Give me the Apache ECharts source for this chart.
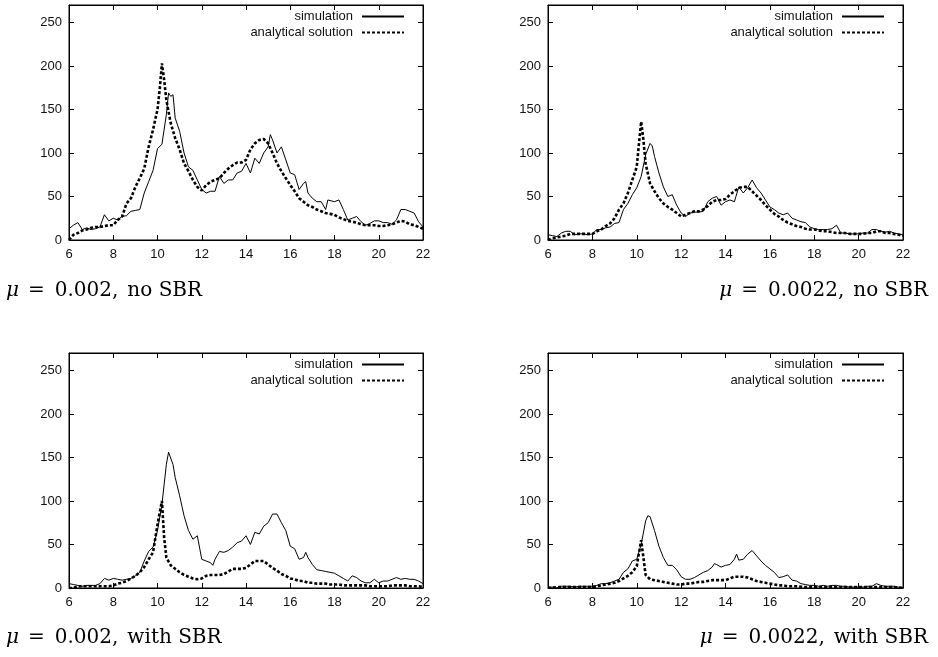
<!DOCTYPE html>
<html>
<head>
<meta charset="utf-8">
<script src="https://cdn.jsdelivr.net/npm/echarts@6/dist/echarts.min.js"></script>
<style>
  html, body { margin: 0; padding: 0; background: #fff; }
  #chart { width: 938px; height: 657px; }
</style>
</head>
<body>
<div id="chart"></div>
<script>
// axis ticks
var xTicks = [6, 8, 10, 12, 14, 16, 18, 20, 22];
var yTicks = [0, 50, 100, 150, 200, 250];

var muValues = ['0.002,', '0.0022,', '0.002,', '0.0022,'];
var captionTails = ['no SBR', 'no SBR', 'with SBR', 'with SBR'];

// panel 1: mu = 0.002, no SBR
var sim1 = [[6.0,13],[6.2,17],[6.4,20],[6.6,12],[6.8,14],[7.0,12],[7.2,13],[7.4,15],[7.6,29],[7.8,22],[8.0,25],[8.2,23],[8.4,27],[8.6,28],[8.8,33],[9.0,34],[9.2,35],[9.4,54],[9.6,67],[9.8,80],[10.0,105],[10.2,110],[10.4,144],[10.5,169],[10.6,165],[10.7,167],[10.8,140],[11.0,125],[11.2,100],[11.4,84],[11.6,80],[11.8,69],[12.0,58],[12.2,54],[12.4,56],[12.6,56],[12.8,73],[13.0,65],[13.2,69],[13.4,69],[13.6,77],[13.8,79],[14.0,88],[14.2,77],[14.4,94],[14.6,88],[14.8,100],[15.0,107],[15.1,121],[15.2,115],[15.4,100],[15.6,107],[15.8,92],[16.0,77],[16.2,75],[16.4,58],[16.6,65],[16.7,67],[16.8,54],[17.0,48],[17.2,44],[17.4,44],[17.6,35],[17.7,46],[18.0,44],[18.2,46],[18.4,35],[18.6,23],[18.8,25],[19.0,27],[19.2,21],[19.4,17],[19.6,19],[19.8,22],[20.0,22],[20.2,20],[20.4,20],[20.6,18],[20.8,23],[21.0,35],[21.2,35],[21.4,33],[21.6,31],[21.8,21],[22.0,15]];
var ana1 = [[6.0,0],[6.2,6],[6.4,8],[6.6,11],[6.8,12],[7.0,14],[7.2,15],[7.4,15],[7.6,16],[7.8,17],[8.0,17],[8.2,23],[8.4,27],[8.6,42],[8.8,48],[9.0,61],[9.2,71],[9.4,82],[9.6,107],[9.8,127],[10.0,150],[10.1,173],[10.2,203],[10.3,184],[10.4,161],[10.6,134],[10.8,117],[11.0,104],[11.2,88],[11.4,79],[11.6,69],[11.8,61],[12.0,57],[12.2,63],[12.4,67],[12.6,69],[12.8,71],[13.0,77],[13.2,82],[13.4,86],[13.6,89],[13.8,89],[14.0,92],[14.2,104],[14.4,111],[14.6,115],[14.8,116],[15.0,111],[15.2,100],[15.4,88],[15.6,79],[15.8,71],[16.0,63],[16.2,56],[16.4,48],[16.6,44],[16.8,40],[17.0,38],[17.2,35],[17.4,33],[17.6,31],[17.8,30],[18.0,29],[18.2,26],[18.4,24],[18.6,22],[18.8,21],[19.0,20],[19.2,18],[19.4,17],[19.6,17],[19.8,17],[20.0,16],[20.2,16],[20.4,17],[20.6,18],[20.8,20],[21.0,22],[21.2,21],[21.4,18],[21.6,17],[21.8,15],[22.0,13]];

// panel 2: mu = 0.0022, no SBR
var sim2 = [[6.0,6],[6.2,5],[6.4,4],[6.6,8],[6.8,10],[7.0,10],[7.2,6],[7.4,7],[7.6,7],[7.8,6],[8.0,7],[8.2,12],[8.4,12],[8.6,14],[8.8,15],[9.0,19],[9.2,20],[9.4,35],[9.6,42],[9.8,52],[10.0,60],[10.2,73],[10.4,98],[10.6,111],[10.7,108],[10.8,96],[11.0,77],[11.2,61],[11.4,50],[11.6,52],[11.8,40],[12.0,31],[12.2,27],[12.4,31],[12.6,32],[12.8,32],[13.0,33],[13.2,44],[13.4,48],[13.6,50],[13.8,40],[14.0,44],[14.2,46],[14.4,44],[14.6,61],[14.8,54],[15.0,60],[15.2,69],[15.4,60],[15.6,54],[15.8,46],[16.0,38],[16.2,35],[16.4,31],[16.6,29],[16.8,31],[17.0,25],[17.2,23],[17.4,21],[17.6,20],[17.8,15],[18.0,13],[18.2,12],[18.4,12],[18.6,12],[18.8,13],[19.0,17],[19.2,8],[19.4,8],[19.6,7],[19.8,7],[20.0,7],[20.2,8],[20.4,8],[20.6,12],[20.8,12],[21.0,10],[21.2,9],[21.4,10],[21.6,8],[21.8,7],[22.0,6]];
var ana2 = [[6.0,0],[6.2,2],[6.4,3],[6.6,4],[6.8,5],[7.0,7],[7.2,7],[7.4,7],[7.6,7],[7.8,7],[8.0,7],[8.2,10],[8.4,12],[8.6,16],[8.8,19],[9.0,25],[9.2,35],[9.4,42],[9.6,54],[9.8,69],[10.0,84],[10.1,111],[10.2,136],[10.3,115],[10.4,88],[10.6,65],[10.8,56],[11.0,48],[11.2,42],[11.4,38],[11.6,35],[11.8,31],[12.0,27],[12.2,29],[12.4,31],[12.6,33],[12.8,33],[13.0,35],[13.2,39],[13.4,44],[13.6,46],[13.8,46],[14.0,47],[14.2,52],[14.4,56],[14.6,60],[14.8,61],[15.0,61],[15.2,56],[15.4,51],[15.6,46],[15.8,40],[16.0,35],[16.2,30],[16.4,27],[16.6,23],[16.8,20],[17.0,18],[17.2,16],[17.4,15],[17.6,13],[17.8,12],[18.0,12],[18.2,11],[18.4,10],[18.6,10],[18.8,9],[19.0,8],[19.2,8],[19.4,8],[19.6,7],[19.8,7],[20.0,7],[20.2,7],[20.4,8],[20.6,8],[20.8,10],[21.0,10],[21.2,8],[21.4,8],[21.6,7],[21.8,6],[22.0,5]];

// panel 3: mu = 0.002, with SBR
var sim3 = [[6.0,5],[6.2,4],[6.4,3],[6.6,2],[6.8,3],[7.0,3],[7.2,3],[7.4,5],[7.6,11],[7.8,9],[8.0,11],[8.2,10],[8.4,9],[8.6,10],[8.8,11],[9.0,14],[9.2,18],[9.4,31],[9.6,42],[9.8,47],[10.0,66],[10.2,96],[10.4,142],[10.5,156],[10.7,142],[10.8,127],[11.0,106],[11.2,83],[11.4,66],[11.6,56],[11.8,60],[12.0,33],[12.2,31],[12.4,29],[12.5,26],[12.6,33],[12.8,42],[13.0,41],[13.2,43],[13.4,47],[13.6,52],[13.8,54],[14.0,60],[14.2,50],[14.4,64],[14.6,62],[14.8,71],[15.0,75],[15.2,85],[15.4,85],[15.6,75],[15.8,66],[16.0,48],[16.2,45],[16.4,33],[16.6,35],[16.7,41],[16.8,35],[17.0,27],[17.2,21],[17.4,20],[17.6,19],[17.8,18],[18.0,17],[18.2,14],[18.4,11],[18.6,8],[18.8,14],[19.0,12],[19.2,8],[19.4,6],[19.6,6],[19.8,10],[20.0,6],[20.2,8],[20.4,8],[20.6,10],[20.8,12],[21.0,10],[21.2,11],[21.4,10],[21.6,10],[21.8,8],[22.0,5]];
var ana3 = [[6.0,0],[6.2,0],[6.4,2],[6.6,2],[6.8,2],[7.0,2],[7.2,2],[7.4,2],[7.6,2],[7.8,2],[8.0,3],[8.2,5],[8.4,6],[8.6,8],[8.8,11],[9.0,14],[9.2,18],[9.4,24],[9.6,33],[9.8,41],[10.0,73],[10.1,87],[10.2,100],[10.3,58],[10.4,35],[10.6,26],[10.8,22],[11.0,18],[11.2,15],[11.4,13],[11.6,11],[11.8,10],[12.0,11],[12.2,14],[12.4,15],[12.6,15],[12.8,15],[13.0,16],[13.2,19],[13.4,22],[13.6,22],[13.8,22],[14.0,23],[14.2,27],[14.4,31],[14.6,31],[14.8,31],[15.0,27],[15.2,23],[15.4,20],[15.6,16],[15.8,14],[16.0,11],[16.2,10],[16.4,8],[16.6,8],[16.8,6],[17.0,6],[17.2,5],[17.4,5],[17.6,5],[17.8,4],[18.0,4],[18.2,4],[18.4,3],[18.6,3],[18.8,3],[19.0,3],[19.2,3],[19.4,3],[19.6,2],[19.8,2],[20.0,2],[20.2,2],[20.4,2],[20.6,3],[20.8,3],[21.0,3],[21.2,3],[21.4,2],[21.6,2],[21.8,2],[22.0,1]];

// panel 4: mu = 0.0022, with SBR
var sim4 = [[6.0,1],[6.2,1],[6.4,0],[6.6,2],[6.8,2],[7.0,2],[7.2,1],[7.4,2],[7.6,2],[7.8,2],[8.0,2],[8.2,3],[8.4,5],[8.6,5],[8.8,6],[9.0,8],[9.2,10],[9.4,18],[9.6,22],[9.8,31],[10.0,33],[10.2,50],[10.4,77],[10.5,83],[10.6,82],[10.8,66],[11.0,48],[11.2,35],[11.4,26],[11.6,26],[11.8,21],[12.0,13],[12.2,10],[12.4,10],[12.6,12],[12.8,15],[13.0,18],[13.2,20],[13.4,24],[13.5,28],[13.6,27],[13.8,24],[14.0,26],[14.2,27],[14.4,33],[14.5,39],[14.6,32],[14.8,33],[15.0,39],[15.2,43],[15.4,37],[15.6,31],[15.8,26],[16.0,22],[16.2,18],[16.4,12],[16.6,13],[16.8,15],[17.0,9],[17.2,8],[17.4,5],[17.6,4],[17.8,3],[18.0,3],[18.2,2],[18.4,3],[18.6,2],[18.8,3],[19.0,3],[19.2,2],[19.4,2],[19.6,1],[19.8,1],[20.0,1],[20.2,1],[20.4,2],[20.6,2],[20.8,5],[21.0,3],[21.2,2],[21.4,2],[21.6,2],[21.8,1],[22.0,0]];
var ana4 = [[6.0,0],[6.4,1],[6.8,1],[7.2,1],[7.6,1],[8.0,1],[8.2,2],[8.4,3],[8.6,4],[8.8,5],[9.0,6],[9.2,8],[9.4,11],[9.6,14],[9.8,18],[10.0,25],[10.1,40],[10.2,55],[10.3,35],[10.4,15],[10.6,10],[10.8,9],[11.0,8],[11.2,7],[11.4,6],[11.6,5],[11.8,4],[12.0,4],[12.2,5],[12.4,5],[12.6,6],[12.8,7],[13.0,7],[13.2,8],[13.4,9],[13.6,9],[13.8,9],[14.0,9],[14.2,11],[14.4,13],[14.6,13],[14.8,13],[15.0,12],[15.2,10],[15.4,8],[15.6,7],[15.8,6],[16.0,5],[16.2,4],[16.4,3],[16.6,3],[16.8,2],[17.2,2],[17.6,1],[18.0,1],[18.4,1],[18.8,1],[19.2,1],[19.6,1],[20.0,1],[20.4,1],[20.8,1],[21.2,1],[21.6,1],[22.0,0]];

var simData = [sim1, sim2, sim3, sim4];
var anaData = [ana1, ana2, ana3, ana4];

var chart = echarts.init(document.getElementById('chart'));

var boxes = [
  { left: 69, top: 5, width: 354, height: 235 },
  { left: 548, top: 5, width: 355, height: 235 },
  { left: 69, top: 353, width: 354, height: 235 },
  { left: 548, top: 353, width: 355, height: 235 }
];

var font = 'Liberation Sans';
var grids = [], xAxes = [], yAxes = [], series = [], legends = [], titles = [];

boxes.forEach(function (b, i) {
  grids.push({ left: b.left, top: b.top, width: b.width, height: b.height,
    show: true, borderColor: '#000', borderWidth: 1, backgroundColor: 'transparent' });
});

// bottom / left axes with labels
boxes.forEach(function (b, i) {
  xAxes.push({
    type: 'value', gridIndex: i, position: 'bottom',
    min: xTicks[0], max: xTicks[xTicks.length - 1], interval: xTicks[1] - xTicks[0],
    axisLine: { show: true, onZero: false, lineStyle: { color: '#000', width: 1 } },
    axisTick: { show: true, inside: true, length: 5, lineStyle: { color: '#000' } },
    axisLabel: { color: '#111', fontFamily: font, fontSize: 13, margin: 8 },
    splitLine: { show: false }
  });
  yAxes.push({
    type: 'value', gridIndex: i, position: 'left',
    min: yTicks[0], max: 270, interval: yTicks[1] - yTicks[0],
    axisLine: { show: true, onZero: false, lineStyle: { color: '#000', width: 1 } },
    axisTick: { show: true, inside: true, length: 5, lineStyle: { color: '#000' } },
    axisLabel: { color: '#111', fontFamily: font, fontSize: 13, margin: 7, showMaxLabel: false },
    splitLine: { show: false }
  });
});
// mirrored tick axes (top / right)
boxes.forEach(function (b, i) {
  xAxes.push({
    type: 'value', gridIndex: i, position: 'top',
    min: xTicks[0], max: xTicks[xTicks.length - 1], interval: xTicks[1] - xTicks[0],
    axisLine: { show: true, onZero: false, lineStyle: { color: '#000', width: 1 } },
    axisTick: { show: true, inside: true, length: 5, lineStyle: { color: '#000' } },
    axisLabel: { show: false }, splitLine: { show: false }
  });
  yAxes.push({
    type: 'value', gridIndex: i, position: 'right',
    min: yTicks[0], max: 270, interval: yTicks[1] - yTicks[0],
    axisLine: { show: true, onZero: false, lineStyle: { color: '#000', width: 1 } },
    axisTick: { show: true, inside: true, length: 5, lineStyle: { color: '#000' } },
    axisLabel: { show: false }, splitLine: { show: false }
  });
});

boxes.forEach(function (b, i) {
  series.push({
    name: 'simulation', type: 'line', xAxisIndex: i, yAxisIndex: i,
    data: simData[i], symbol: 'none', smooth: false,
    lineStyle: { color: '#000', width: 1 }, itemStyle: { color: '#000' }, z: 3
  });
  series.push({
    name: 'analytical solution', type: 'line', xAxisIndex: i, yAxisIndex: i,
    data: anaData[i], symbol: 'none', smooth: false,
    lineStyle: { color: '#000', width: 2.6, type: [3, 2] }, itemStyle: { color: '#000' }, z: 2
  });
  legends.push({
    data: ['simulation', 'analytical solution'],
    orient: 'vertical', align: 'right', padding: 0,
    right: 938 - (b.left + b.width) + 18, top: b.top + 5,
    itemWidth: 42, itemHeight: 12, itemGap: 3,
    selectedMode: false,
    itemStyle: { opacity: 0 },
    textStyle: { color: '#111', fontFamily: font, fontSize: 13, padding: [0, 4, 0, 0] }
  });
});

// captions (LaTeX-like: italic mu, wide spacing round "=")
var capFont = { fontFamily: 'DejaVu Serif', fontWeight: 'normal', fontSize: 20, color: '#000' };
var capRich = {
  m: Object.assign({}, capFont, { fontStyle: 'italic' }),
  e: Object.assign({}, capFont, { padding: [0, 10, 0, 9] }),
  t: capFont,
  w: Object.assign({}, capFont, { padding: [0, 0, 0, 9] })
};
var capPos = [
  { left: 6, top: 281 },
  { right: 10, top: 281 },
  { left: 6, top: 628 },
  { right: 10, top: 628 }
];
capPos.forEach(function (p, i) {
  titles.push(Object.assign({
    text: '{m|\u03bc}{e|=}{t|' + muValues[i] + '}{w|' + captionTails[i] + '}',
    textStyle: { rich: capRich, fontWeight: 'normal' }, padding: 0
  }, p));
});

chart.setOption({
  animation: false,
  backgroundColor: '#fff',
  title: titles,
  legend: legends,
  grid: grids,
  xAxis: xAxes,
  yAxis: yAxes,
  series: series
});
</script>
</body>
</html>
